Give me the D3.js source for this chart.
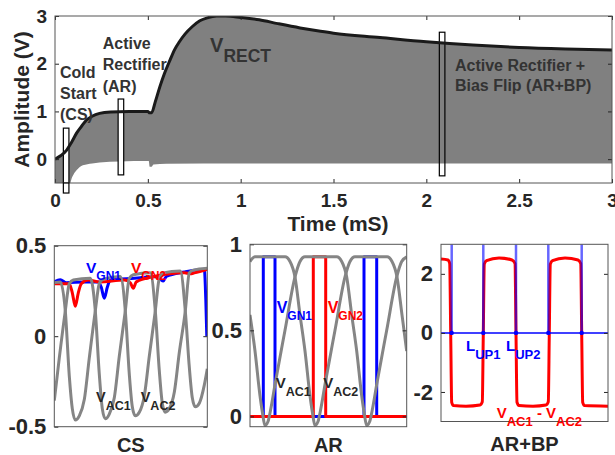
<!DOCTYPE html>
<html>
<head>
<meta charset="utf-8">
<script src="https://cdn.jsdelivr.net/npm/d3@7"></script>
<style>
  body { margin: 0; background: #fff; }
  text { font-family: "Liberation Sans", Arial, sans-serif; font-weight: bold; }
</style>
</head>
<body>
<div id="chart-area"></div>
<script>
// ---------- top panel: rectifier output vs time (mS, V)
var timeTicks = [0, 0.5, 1, 1.5, 2, 2.5, 3];
var ampTicks = [0, 1, 2, 3];

var upperTime = [0, 0.03, 0.063, 0.09, 0.117, 0.145, 0.17, 0.2, 0.24, 0.3, 0.4, 0.5, 0.51, 0.52, 0.54, 0.565, 0.59, 0.62, 0.645, 0.67, 0.7, 0.74, 0.78, 0.82, 0.87, 0.92, 1.0, 1.1, 1.2, 1.32, 1.43, 1.5, 1.75, 2.0, 2.25, 2.5, 2.75, 3.0];
var upperAmp = [0, 0.07, 0.19, 0.36, 0.55, 0.70, 0.82, 0.90, 0.96, 0.99, 1.0, 1.0, 0.97, 0.97, 1.2, 1.52, 1.8, 2.08, 2.3, 2.46, 2.62, 2.78, 2.9, 2.96, 3.0, 3.0, 2.97, 2.92, 2.84, 2.75, 2.68, 2.64, 2.55, 2.46, 2.39, 2.34, 2.31, 2.29];

var lowerTime = [0, 0.07, 0.08, 0.09, 0.1, 0.117, 0.15, 0.2, 0.24, 0.35, 0.5, 0.505, 0.51, 0.52, 0.53, 0.6, 1.0, 3.0];
var lowerAmp = [-0.8, -0.75, -0.55, -0.4, -0.32, -0.23, -0.13, -0.09, -0.07, -0.05, -0.04, -0.04, -0.16, -0.16, -0.11, -0.095, -0.09, -0.09];

// zoomed windows marked on the top panel
var windowStart = [0.045, 0.34, 2.07];
var windowEnd = [0.075, 0.37, 2.10];
var windowLow = [-0.71, -0.33, -0.35];
var windowHigh = [0.65, 1.26, 2.66];
var windowFilled = [true, true, false];

// ---------- CS panel
var csTicks = [-0.5, 0, 0.5];
var csAc1T = [0, 6, 11, 15, 18, 21, 25, 30, 35, 41, 45, 49, 66, 71, 75, 78, 81, 85, 90, 95, 101, 105, 109, 126, 131, 135, 138, 141, 145, 150, 153];
var csAc1V = [0.296, 0.30, 0.14, -0.22, -0.40, -0.463, -0.44, -0.35, -0.12, 0.14, 0.29, 0.315, 0.33, 0.14, -0.21, -0.39, -0.44, -0.42, -0.33, -0.11, 0.14, 0.32, 0.35, 0.36, 0.14, -0.17, -0.34, -0.39, -0.37, -0.27, -0.18];
var csAc2T = [0, 5, 11, 15, 19, 36, 41, 45, 48, 51, 55, 60, 65, 71, 75, 79, 96, 101, 105, 108, 111, 115, 120, 125, 131, 135, 139, 153];
var csAc2V = [-0.356, -0.12, 0.14, 0.29, 0.31, 0.32, 0.14, -0.21, -0.40, -0.456, -0.43, -0.34, -0.11, 0.14, 0.32, 0.34, 0.35, 0.14, -0.19, -0.37, -0.42, -0.40, -0.31, -0.09, 0.14, 0.35, 0.365, 0.376];
var csGn1T = [0, 6, 12, 30, 44, 47, 50, 53, 56, 80, 104, 107, 109, 112, 130, 150, 151.5, 152.5];
var csGn1V = [0.30, 0.312, 0.295, 0.30, 0.30, 0.27, 0.21, 0.27, 0.31, 0.32, 0.33, 0.31, 0.305, 0.33, 0.355, 0.37, 0.2, 0.0];
var csGn2T = [0, 15, 18, 21, 24, 27, 34, 45, 70, 76, 79, 82, 100, 130, 136, 140, 153];
var csGn2V = [0.29, 0.29, 0.24, 0.165, 0.24, 0.29, 0.31, 0.30, 0.31, 0.295, 0.265, 0.30, 0.33, 0.35, 0.345, 0.35, 0.37];

// ---------- AR panel
var arTicks = [0, 0.5, 1];
var arAc1T = [0, 5, 10, 12.5, 15, 18, 21, 25, 35, 45, 50, 55, 86.7, 91.7, 96.7, 101.7, 106.7, 111.7, 114.2, 116.7, 119.7, 122.7, 126.7, 136.7, 146.7, 151.7, 156.7];
var arAc1V = [0.59, 0.38, 0.12, 0.02, -0.054, -0.03, 0.05, 0.185, 0.50, 0.81, 0.90, 0.927, 0.927, 0.90, 0.81, 0.59, 0.38, 0.12, 0.02, -0.054, -0.03, 0.05, 0.185, 0.50, 0.81, 0.90, 0.927];
var arAc2T = [0, 5, 35, 40, 45, 50, 55, 60, 62.5, 65, 68, 71, 75, 85, 95, 100, 105, 137, 142, 147, 152, 156.7];
var arAc2V = [0.90, 0.927, 0.927, 0.90, 0.81, 0.59, 0.38, 0.12, 0.02, -0.054, -0.03, 0.05, 0.185, 0.50, 0.81, 0.90, 0.927, 0.927, 0.90, 0.81, 0.59, 0.38];
var arGn1T = [0, 13.3, 13.3, 25, 25, 114, 114, 126.7, 126.7, 156.7];
var arGn1V = [0, 0, 0.927, 0.927, 0, 0, 0.927, 0.927, 0, 0];
var arGn2T = [0, 63.3, 63.3, 75.7, 75.7, 156.7];
var arGn2V = [0, 0, 0.927, 0.927, 0, 0];

// ---------- AR+BP panel
var bpTicks = [-2, 0, 2];
var bpDiffT = [0, 7, 8.7, 9.7, 10.7, 12.5, 25, 39, 41.3, 42.3, 43.3, 45.5, 58, 71, 74, 75, 76, 78, 92, 105, 107.3, 108.3, 109.3, 111.5, 124, 137, 139.7, 140.7, 141.7, 143.5, 167];
var bpDiffV = [2.50, 2.47, 2.35, 0, -2.35, -2.46, -2.48, -2.44, -2.33, 0, 2.33, 2.45, 2.54, 2.47, 2.35, 0, -2.35, -2.46, -2.48, -2.44, -2.33, 0, 2.33, 2.45, 2.54, 2.47, 2.35, 0, -2.35, -2.46, -2.48];
var bpFlipT = [10.7, 42.3, 75, 107.3, 140.7];

var INK = "#262626";
var GRAY = "#858585";

var svg = d3.select("#chart-area")
  .append("svg")
  .attr("width", 615)
  .attr("height", 455);

function zip(t, v) {
  return t.map(function(d, i) { return [d, v[i]]; });
}

function addPanel(box, xDomain, yDomain, id) {
  var x = d3.scaleLinear().domain(xDomain).range([box.left, box.right]);
  var y = d3.scaleLinear().domain(yDomain).range([box.bottom, box.top]);
  svg.append("clipPath").attr("id", id)
    .append("rect")
    .attr("x", box.left).attr("y", box.top)
    .attr("width", box.right - box.left).attr("height", box.bottom - box.top);
  var plot = svg.append("g").attr("clip-path", "url(#" + id + ")");
  return { x: x, y: y, plot: plot, box: box };
}

function drawFrame(p, yTicks, fontSize, xTicks) {
  var b = p.box;
  var fmt = function(d) { return String(d); };

  var leftAx = svg.append("g")
    .attr("transform", "translate(" + b.left + ",0)")
    .call(d3.axisLeft(p.y).tickValues(yTicks).tickFormat(fmt).tickSizeInner(-4).tickSizeOuter(0).tickPadding(8));
  var rightAx = svg.append("g")
    .attr("transform", "translate(" + b.right + ",0)")
    .call(d3.axisRight(p.y).tickValues(yTicks).tickFormat("").tickSizeInner(-4).tickSizeOuter(0));
  var axes = [leftAx, rightAx];

  if (xTicks) {
    var bottomAx = svg.append("g")
      .attr("transform", "translate(0," + b.bottom + ")")
      .call(d3.axisBottom(p.x).tickValues(xTicks).tickFormat(fmt).tickSizeInner(-4).tickSizeOuter(0).tickPadding(11));
    var topAx = svg.append("g")
      .attr("transform", "translate(0," + b.top + ")")
      .call(d3.axisTop(p.x).tickValues(xTicks).tickFormat("").tickSizeInner(-4).tickSizeOuter(0));
    axes.push(bottomAx, topAx);
  }

  axes.forEach(function(a) {
    a.select(".domain").remove();
    a.selectAll(".tick line").attr("stroke", INK);
    a.selectAll(".tick text")
      .attr("fill", INK)
      .style("font-size", fontSize + "px")
      .style("font-family", '"Liberation Sans", Arial, sans-serif')
      .style("font-weight", "bold");
  });

  svg.append("rect")
    .attr("x", b.left).attr("y", b.top)
    .attr("width", b.right - b.left).attr("height", b.bottom - b.top)
    .attr("fill", "none")
    .attr("stroke", "#555")
    .attr("stroke-width", 1);
}

// text with subscripts: parts = [[string, size, dy], ...]
function richLabel(x, y, parts, color) {
  var t = svg.append("text").attr("x", x).attr("y", y).attr("fill", color);
  parts.forEach(function(p) {
    t.append("tspan").style("font-size", p[1] + "px").attr("dy", p[2]).text(p[0]);
  });
  return t;
}

function plotLine(p, t, v, color, width, curve) {
  p.plot.append("path")
    .datum(zip(t, v))
    .attr("fill", "none")
    .attr("stroke", color)
    .attr("stroke-width", width)
    .attr("stroke-linejoin", "round")
    .attr("d", d3.line()
      .x(function(d) { return p.x(d[0]); })
      .y(function(d) { return p.y(d[1]); })
      .curve(curve || d3.curveMonotoneX));
}

// ================= top panel
var main = addPanel({ left: 55, right: 612, top: 16, bottom: 183 }, [0, 3], [-0.5, 3], "clip-main");

var upperData = zip(upperTime, upperAmp);
var lowerData = zip(lowerTime, lowerAmp);

// gray band: the fast oscillation filling the space between the two envelopes
var lowLine = d3.line()
  .x(function(d) { return main.x(d[0]); })
  .y(function(d) { return main.y(d[1]); })
  .curve(d3.curveMonotoneX);
var upLine = d3.line()
  .x(function(d) { return main.x(d[0]); })
  .y(function(d) { return main.y(d[1]); });

main.plot.append("path")
  .attr("fill", "#808080")
  .attr("d", lowLine(lowerData) + "L" + upLine(upperData.slice().reverse()).slice(1) + "Z");

windowStart.forEach(function(t0, i) {
  main.plot.append("rect")
    .attr("x", main.x(t0))
    .attr("y", main.y(windowHigh[i]))
    .attr("width", main.x(windowEnd[i]) - main.x(t0))
    .attr("height", main.y(windowLow[i]) - main.y(windowHigh[i]))
    .attr("fill", windowFilled[i] ? "#fff" : "none")
    .attr("stroke", "#000")
    .attr("stroke-width", 1.2);
});

plotLine(main, upperTime, upperAmp, "#1a1a1a", 3);

drawFrame(main, ampTicks, 19, timeTicks);

// window parts that overhang the axis box
windowStart.forEach(function(t0, i) {
  if (windowLow[i] < -0.5) {
    svg.append("rect")
      .attr("x", main.x(t0))
      .attr("y", main.y(-0.5))
      .attr("width", main.x(windowEnd[i]) - main.x(t0))
      .attr("height", main.y(windowLow[i]) - main.y(-0.5))
      .attr("fill", "#fff")
      .attr("stroke", "#000")
      .attr("stroke-width", 1.2);
  }
});

var note = "#333";
["Cold", "Start", "(CS)"].forEach(function(s, i) {
  svg.append("text").attr("x", main.x(0.027)).attr("y", main.y(1.71) + i * 21)
    .attr("fill", note).style("font-size", "16px").text(s);
});
["Active", "Rectifier", "(AR)"].forEach(function(s, i) {
  svg.append("text").attr("x", main.x(0.257)).attr("y", main.y(2.31) + i * 21.5)
    .attr("fill", note).style("font-size", "16px").text(s);
});
["Active Rectifier +", "Bias Flip (AR+BP)"].forEach(function(s, i) {
  svg.append("text").attr("x", main.x(2.154)).attr("y", main.y(1.837) + i * 20)
    .attr("fill", note).style("font-size", "16px").text(s);
});
richLabel(main.x(0.835), main.y(2.245), [["V", 20, 0], ["RECT", 17.5, 10]], note);

svg.append("text")
  .attr("transform", "translate(29," + ((main.box.top + main.box.bottom) / 2) + ") rotate(-90)")
  .attr("text-anchor", "middle")
  .attr("fill", INK)
  .style("font-size", "21px")
  .text("Amplitude (V)");

svg.append("text")
  .attr("x", 338).attr("y", 231)
  .attr("text-anchor", "middle")
  .attr("fill", INK)
  .style("font-size", "21px")
  .text("Time (mS)");

// ================= CS panel
var cs = addPanel({ left: 54.3, right: 207.3, top: 245.7, bottom: 426.7 }, [0, 153], [-0.5, 0.5], "clip-cs");
plotLine(cs, csGn1T, csGn1V, "#0000ff", 3);
plotLine(cs, csGn2T, csGn2V, "#ff0000", 3);
plotLine(cs, csAc1T, csAc1V, GRAY, 3);
plotLine(cs, csAc2T, csAc2V, GRAY, 3);
drawFrame(cs, csTicks, 22);
richLabel(cs.x(31.7), cs.y(0.35), [["V", 15.5, 0], ["GN1", 12, 7.5]], "#0000ff");
richLabel(cs.x(76.7), cs.y(0.35), [["V", 15.5, 0], ["GN2", 12, 7.5]], "#ff0000");
richLabel(cs.x(41.7), cs.y(-0.362), [["V", 14.5, 0], ["AC1", 12.5, 8]], INK);
richLabel(cs.x(86.4), cs.y(-0.362), [["V", 14.5, 0], ["AC2", 12.5, 8]], INK);
svg.append("text").attr("x", (cs.box.left + cs.box.right) / 2).attr("y", 452)
  .attr("text-anchor", "middle").attr("fill", INK).style("font-size", "20px").text("CS");

// ================= AR panel
var ar = addPanel({ left: 250, right: 406.7, top: 244.3, bottom: 426.7 }, [0, 156.7], [-0.06, 1.0], "clip-ar");
plotLine(ar, arGn1T, arGn1V, "#0000ff", 3, d3.curveLinear);
plotLine(ar, arGn2T, arGn2V, "#ff0000", 3, d3.curveLinear);
plotLine(ar, arAc1T, arAc1V, GRAY, 3);
plotLine(ar, arAc2T, arAc2V, GRAY, 3);
drawFrame(ar, arTicks, 22);
richLabel(ar.x(26.7), ar.y(0.599), [["V", 16, 0], ["GN1", 12, 7]], "#0000ff");
richLabel(ar.x(77.7), ar.y(0.599), [["V", 16, 0], ["GN2", 12, 7]], "#ff0000");
richLabel(ar.x(25.7), ar.y(0.163), [["V", 15, 0], ["AC1", 12.5, 8]], INK);
richLabel(ar.x(73.3), ar.y(0.163), [["V", 15, 0], ["AC2", 12.5, 8]], INK);
svg.append("text").attr("x", (ar.box.left + ar.box.right) / 2).attr("y", 452)
  .attr("text-anchor", "middle").attr("fill", INK).style("font-size", "20px").text("AR");

// ================= AR+BP panel
var bp = addPanel({ left: 441, right: 608, top: 244.3, bottom: 421.5 }, [0, 167], [-3, 3], "clip-bp");
plotLine(bp, bpDiffT, bpDiffV, "#ff0000", 3);
bp.plot.append("line")
  .attr("x1", bp.x(0)).attr("x2", bp.x(167))
  .attr("y1", bp.y(0)).attr("y2", bp.y(0))
  .attr("stroke", "#0000ff").attr("stroke-width", 1.5);
bp.plot.selectAll(".flip").data(bpFlipT).enter()
  .append("line")
  .attr("class", "flip")
  .attr("x1", function(d) { return bp.x(d); })
  .attr("x2", function(d) { return bp.x(d); })
  .attr("y1", bp.y(0))
  .attr("y2", bp.y(3))
  .attr("stroke", "#0000ff")
  .attr("stroke-opacity", 0.6)
  .attr("stroke-width", 2.5);
bp.plot.selectAll(".flipdot").data(bpFlipT).enter()
  .append("circle")
  .attr("class", "flipdot")
  .attr("cx", function(d) { return bp.x(d); })
  .attr("cy", bp.y(0))
  .attr("r", 2.2)
  .attr("fill", "#0000ff");
drawFrame(bp, bpTicks, 22);
richLabel(bp.x(25), bp.y(-0.61), [["L", 15, 0], ["UP1", 13, 8]], "#0000ff");
richLabel(bp.x(65), bp.y(-0.61), [["L", 15, 0], ["UP2", 13, 8]], "#0000ff");
richLabel(bp.x(55.7), bp.y(-2.89), [["V", 15, 0], ["AC1", 13, 8], [" - ", 15, -8], ["V", 15, 0], ["AC2", 13, 8]], "#ff0000");
svg.append("text").attr("x", (bp.box.left + bp.box.right) / 2).attr("y", 451)
  .attr("text-anchor", "middle").attr("fill", INK).style("font-size", "20px").text("AR+BP");
</script>
</body>
</html>
